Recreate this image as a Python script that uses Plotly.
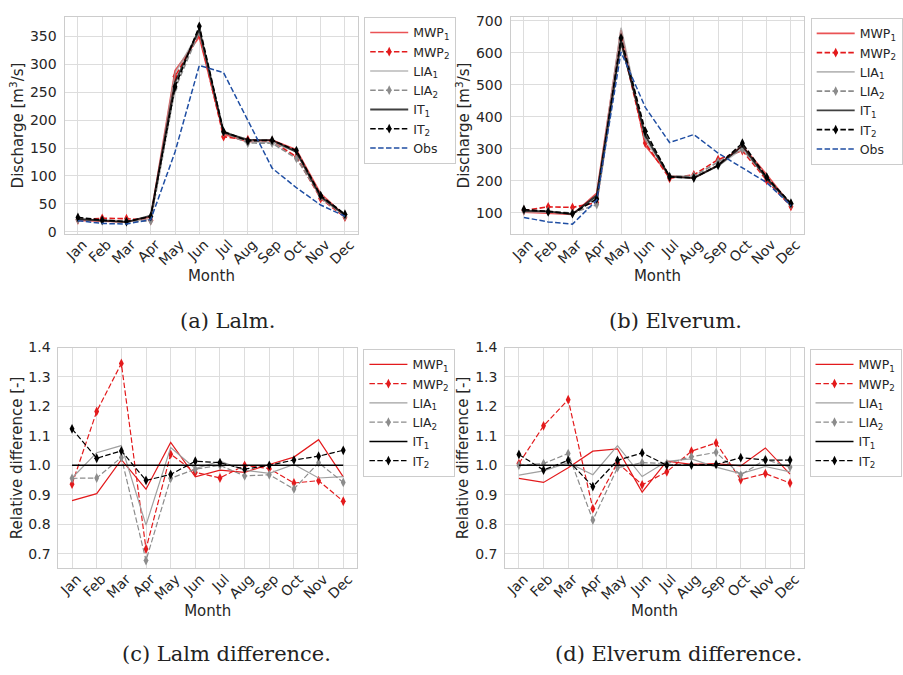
import plotly.graph_objects as go

# Month axis
months = ["Jan", "Feb", "Mar", "Apr", "May", "Jun", "Jul", "Aug", "Sep", "Oct", "Nov", "Dec"]

# Mean monthly discharge [m3/s] for the reference run (IT1) and observations
lalm_it1 = [23, 20.5, 17.5, 29, 268, 363, 178, 165, 164, 143, 63, 30]
lalm_obs = [20, 15, 14, 22, 143, 298, 285, 200, 114, 79, 48, 28]
elverum_it1 = [107, 105, 96, 155, 636, 341, 213, 209, 248, 310, 208, 128]
elverum_obs = [86, 72, 65, 140, 603, 430, 320, 345, 287, 241, 195, 123]

# Discharge relative to IT1 [-]
lalm_mwp1 = [0.880, 0.904, 1.019, 0.919, 1.078, 0.961, 0.984, 0.976, 1.003, 1.028, 1.087, 0.961]
lalm_mwp2 = [0.936, 1.183, 1.346, 0.716, 1.038, 0.976, 0.957, 1.000, 0.989, 0.940, 0.948, 0.878]
lalm_lia1 = [0.957, 1.043, 1.067, 0.797, 1.060, 0.989, 1.014, 0.983, 0.973, 1.003, 0.957, 0.962]
lalm_lia2 = [0.956, 0.957, 1.027, 0.677, 0.956, 0.987, 1.000, 0.964, 0.968, 0.920, 1.009, 0.942]
lalm_it2 = [1.124, 1.024, 1.049, 0.949, 0.969, 1.014, 1.009, 0.987, 1.000, 1.018, 1.031, 1.051]

elverum_mwp1 = [0.956, 0.942, 0.992, 1.048, 1.056, 0.909, 1.014, 1.003, 1.006, 0.998, 1.059, 0.970]
elverum_mwp2 = [1.006, 1.134, 1.223, 0.853, 1.009, 0.934, 0.978, 1.048, 1.076, 0.951, 0.972, 0.940]
elverum_lia1 = [0.967, 0.981, 1.009, 0.968, 1.067, 0.962, 1.014, 1.022, 0.994, 0.972, 0.996, 0.978]
elverum_lia2 = [1.000, 1.006, 1.040, 0.814, 0.992, 1.009, 1.006, 1.029, 1.044, 0.967, 1.020, 0.994]
elverum_it2 = [1.037, 0.984, 1.017, 0.928, 1.017, 1.042, 1.000, 1.001, 1.003, 1.026, 1.018, 1.018]

series_names = ["MWP<sub>1</sub>", "MWP<sub>2</sub>", "LIA<sub>1</sub>", "LIA<sub>2</sub>",
                "IT<sub>1</sub>", "IT<sub>2</sub>"]

RED = "rgba(227,26,28,{a})"
GREY_L = "rgba(160,160,160,{a})"
GREY_D = "rgba(140,140,140,{a})"
BLACK = "rgba(0,0,0,{a})"
BLUE = "#1f4ea3"

x = list(range(12))
W, H = 903, 675
DASH = "5.5px,2.4px"
TXT = "#262626"
GRID = "#dddddd"
FRAME = "#cccccc"


def px_x(p):
    return p / W


def px_y(p):
    return 1 - p / H


def styles(solid_alpha, lw):
    return [
        dict(color=RED.format(a=solid_alpha), dash="solid", marker=False, width=lw),
        dict(color=RED.format(a=1), dash=DASH, marker=True, width=lw),
        dict(color=GREY_L.format(a=solid_alpha), dash="solid", marker=False, width=lw),
        dict(color=GREY_D.format(a=1), dash=DASH, marker=True, width=lw),
        dict(color=BLACK.format(a=solid_alpha), dash="solid", marker=False, width=lw + 0.3),
        dict(color=BLACK.format(a=1), dash=DASH, marker=True, width=lw),
    ]


fig = go.Figure()


def add_series(values_list, xa, ya, legend, solid_alpha, lw, obs=None):
    for name, vals, st in zip(series_names, values_list, styles(solid_alpha, lw)):
        fig.add_trace(go.Scatter(
            x=x, y=vals, name=name, xaxis=xa, yaxis=ya, legend=legend,
            mode="lines+markers" if st["marker"] else "lines",
            line=dict(color=st["color"], dash=st["dash"], width=st["width"]),
            marker=dict(symbol="diamond-tall", size=7, color=st["color"]),
        ))
    if obs is not None:
        fig.add_trace(go.Scatter(
            x=x, y=obs, name="Obs", xaxis=xa, yaxis=ya, legend=legend, mode="lines",
            line=dict(color=BLUE, dash=DASH, width=1.5),
        ))


def scaled(base, rel):
    return [b * r for b, r in zip(base, rel)]


# (a) Lalm discharge
add_series([scaled(lalm_it1, lalm_mwp1), scaled(lalm_it1, lalm_mwp2),
            scaled(lalm_it1, lalm_lia1), scaled(lalm_it1, lalm_lia2),
            lalm_it1, scaled(lalm_it1, lalm_it2)],
           "x", "y", "legend", 0.75, 1.6, obs=lalm_obs)
# (b) Elverum discharge
add_series([scaled(elverum_it1, elverum_mwp1), scaled(elverum_it1, elverum_mwp2),
            scaled(elverum_it1, elverum_lia1), scaled(elverum_it1, elverum_lia2),
            elverum_it1, scaled(elverum_it1, elverum_it2)],
           "x2", "y2", "legend2", 0.75, 1.6, obs=elverum_obs)
# (c) Lalm relative difference
add_series([lalm_mwp1, lalm_mwp2, lalm_lia1, lalm_lia2, [1.0] * 12, lalm_it2],
           "x3", "y3", "legend3", 1.0, 1.2)
# (d) Elverum relative difference
add_series([elverum_mwp1, elverum_mwp2, elverum_lia1, elverum_lia2, [1.0] * 12, elverum_it2],
           "x4", "y4", "legend4", 1.0, 1.2)

# Panel frames in pixels: (left, right, top, bottom)
panels = {
    "1": (63.5, 361.5, 9.3, 230.7),
    "2": (516.0, 814.0, 9.3, 230.7),
    "3": (57.3, 360.0, 346.7, 572.3),
    "4": (510.7, 813.3, 346.7, 572.3),
}
yranges = {"1": [-3.7, 384.5], "2": [34.5, 712], "3": [0.65, 1.4], "4": [0.65, 1.4]}
ydtick = {"1": 50, "2": 100, "3": 0.1, "4": 0.1}
ytitle = {"1": "Discharge [m<sup>3</sup>/s]", "2": "Discharge [m<sup>3</sup>/s]",
          "3": "Relative difference [-]", "4": "Relative difference [-]"}

axis_common = dict(showgrid=True, gridcolor=GRID, gridwidth=1, zeroline=False,
                   showline=True, linecolor=FRAME, linewidth=1.2, mirror=True,
                   ticks="", tickfont=dict(family="DejaVu Sans", size=14, color=TXT))

layout = {}
for k, (l, r, t, b) in panels.items():
    xn = "xaxis" if k == "1" else f"xaxis{k}"
    yn = "yaxis" if k == "1" else f"yaxis{k}"
    anchor_x = "y" if k == "1" else f"y{k}"
    anchor_y = "x" if k == "1" else f"x{k}"
    layout[xn] = dict(axis_common, domain=[px_x(l), px_x(r)], anchor=anchor_x,
                      range=[-0.55, 11.55], tickmode="array", tickvals=x, ticktext=months,
                      tickangle=-45, ticklabelshift=5, ticklabelstandoff=-4,
                      title=dict(text="Month", font=dict(family="DejaVu Sans", size=15, color=TXT),
                                 standoff=0))
    layout[yn] = dict(axis_common, domain=[px_y(b), px_y(t)], anchor=anchor_y,
                      range=yranges[k], dtick=ydtick[k], tick0=0, ticklabelstandoff=4,
                      tickformat=".1f" if k in ("3", "4") else "d",
                      title=dict(text=ytitle[k], font=dict(family="DejaVu Sans", size=15, color=TXT),
                                 standoff=2))

# Legend boxes (left, top, width, entries) in pixels; each gets a drop shadow behind it
legend_font = 12.5
item_h = max(legend_font * 1.3, 16) + 3
legend_box = {"legend": (367.5, 9, 81.5, 7), "legend2": (820.5, 10, 90, 7),
              "legend3": (366.7, 348, 81.5, 6), "legend4": (819.3, 348, 90, 6)}
legend_common = dict(xanchor="left", yanchor="top", bgcolor="white", bordercolor=FRAME,
                     borderwidth=1, font=dict(family="DejaVu Sans", size=legend_font, color=TXT),
                     itemwidth=38, tracegroupgap=0)
shapes = []
for name, (lx, ly, lw_, n) in legend_box.items():
    layout[name] = dict(legend_common, x=px_x(lx), y=px_y(ly))
    lh = n * item_h + 12
    shapes.append(dict(type="rect", xref="paper", yref="paper", layer="above",
                       x0=px_x(lx + 2.5), x1=px_x(lx + lw_ + 2.5),
                       y0=px_y(ly + lh + 2.5), y1=px_y(ly + 2.5),
                       fillcolor="rgba(90,90,90,0.45)", line=dict(width=0)))

captions = [("(a) Lalm.", 229, 320), ("(b) Elverum.", 683, 320),
            ("(c) Lalm difference.", 228, 660), ("(d) Elverum difference.", 686, 660)]
annotations = [dict(text=t, x=px_x(cx), y=px_y(cy), xref="paper", yref="paper",
                    showarrow=False, xanchor="center", yanchor="middle",
                    font=dict(family="DejaVu Serif", size=21, color="#222222"))
               for t, cx, cy in captions]

fig.update_layout(width=W, height=H, margin=dict(l=0, r=0, t=0, b=0),
                  paper_bgcolor="white", plot_bgcolor="white", annotations=annotations,
                  shapes=shapes, **layout)

fig.write_html("out.html")
